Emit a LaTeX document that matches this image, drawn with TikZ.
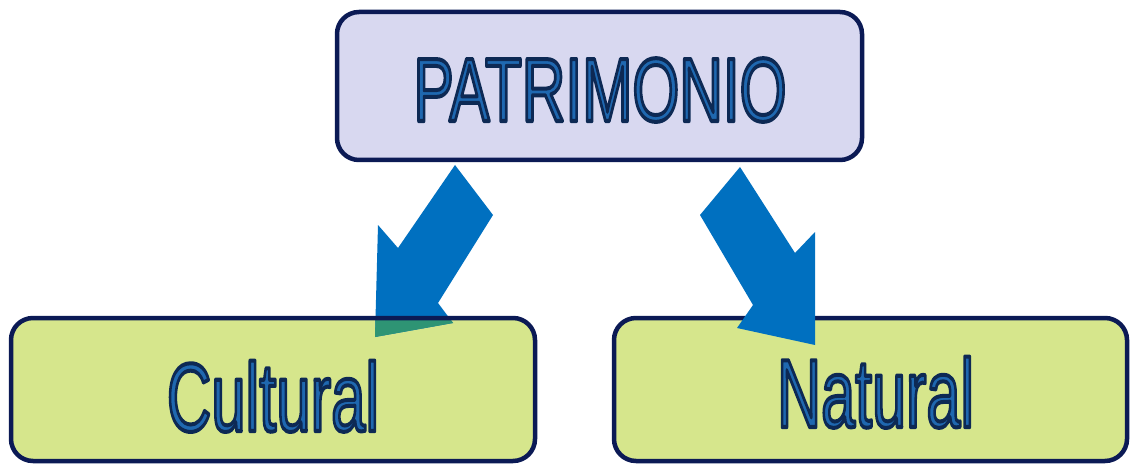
\documentclass[tikz,border=0pt]{standalone}
\usepackage{fontspec}
\setmainfont{Liberation Sans}
\usepackage{graphicx}
\definecolor{arrowblue}{HTML}{0070C0}
\definecolor{overlapteal}{HTML}{2E9474}
\definecolor{topfill}{HTML}{D8D8F0}
\definecolor{botfill}{HTML}{D6E68C}
\definecolor{boxborder}{HTML}{0B1A55}
\definecolor{txtblue}{HTML}{1F68B0}
\newcommand\outlinedtext[3]{%
  \scalebox{#2}[1]{\fontsize{#1}{#1}\selectfont\color{txtblue}%
  \special{pdf:literal direct 2 Tr 4 w 1 j 0.05 0.16 0.33 RG}#3\special{pdf:literal direct 0 Tr 0 j}}}
\begin{document}
\begin{tikzpicture}[x=1pt,y=-1pt,
  boxshape/.style={rectangle, rounded corners=22pt, inner sep=0pt, outer sep=0pt},
  boxline/.style={draw=boxborder, line width=4.5pt, rounded corners=22pt},
  bigarrow/.style={fill=arrowblue},
  label text/.style={anchor=base, inner sep=0pt}]
\useasboundingbox (0,0) rectangle (1131,465);
\fill[white] (0,0) rectangle (1131,465);

% boxes
\node[boxshape, fill=topfill, minimum width=525pt, minimum height=148pt] (pat) at (599.5,86) {};
\node[boxshape, fill=botfill, minimum width=524pt, minimum height=143pt] (cul) at (273,389.5) {};
\node[boxshape, fill=botfill, minimum width=513pt, minimum height=143pt] (nat) at (870.5,389.5) {};

% left arrow (partly under the Cultural box)
\fill[bigarrow] (455,165) -- (493,215) -- (438,303) -- (453,323) -- (375,337) -- (378,225) -- (398,248) -- cycle;
\begin{scope}
  \clip (cul.south west) rectangle (cul.north east);
  \fill[overlapteal] (455,165) -- (493,215) -- (438,303) -- (453,323) -- (375,337) -- (378,225) -- (398,248) -- cycle;
\end{scope}

% borders
\draw[boxline] (pat.south west) rectangle (pat.north east);
\draw[boxline] (cul.south west) rectangle (cul.north east);
\draw[boxline] (nat.south west) rectangle (nat.north east);

% right arrow (over the Natural box)
\fill[bigarrow] (740,167) -- (795,253) -- (815,232) -- (815,345) -- (737,328) -- (753,305) -- (700,215) -- cycle;

% texts
\node[label text] (ptext) at (600,121) {\outlinedtext{90}{0.67}{PATRIMONIO}};
\node[label text] (ctext) at (273,431) {\outlinedtext{97}{0.635}{Cultural}};
\node[label text] (ntext) at (875.5,427) {\outlinedtext{97}{0.63}{Natural}};
\end{tikzpicture}
\end{document}
